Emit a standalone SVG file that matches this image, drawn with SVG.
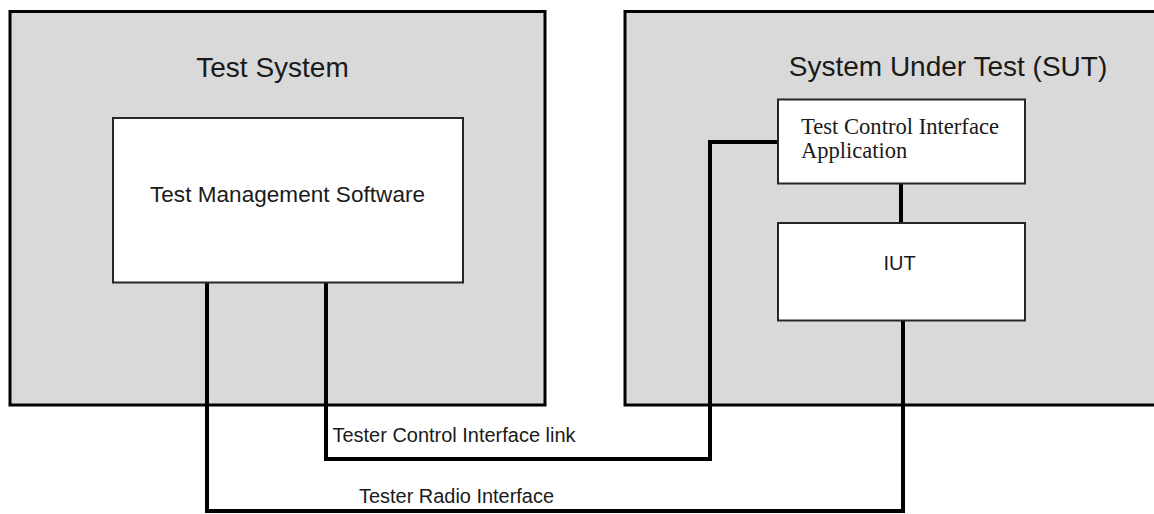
<svg xmlns="http://www.w3.org/2000/svg" width="1154" height="514" viewBox="0 0 1154 514">
<style>
.outer{fill:#d9d9d9;stroke:#000;stroke-width:3}
.inner{fill:#fff;stroke:#262626;stroke-width:2}
.wire{fill:none;stroke:#000;stroke-width:4;stroke-linejoin:miter}
.sans{font-family:"Liberation Sans",Arial,sans-serif;fill:#1a1a1a}
.serif{font-family:"Liberation Serif","Times New Roman",serif;fill:#1a1a1a}
</style>
<rect width="1154" height="514" fill="#fff"/>
<g id="test-system">
<rect class="outer" x="10" y="11.5" width="535" height="393.5"/>
<text class="sans" x="272.5" y="76.5" font-size="28" text-anchor="middle">Test System</text>
</g>
<g id="sut">
<rect class="outer" x="625" y="11.5" width="540" height="393.5"/>
<text class="sans" x="948" y="75.5" font-size="28" text-anchor="middle">System Under Test (SUT)</text>
</g>
<g id="connectors">
<polyline class="wire" points="207,282 207,511 903,511 903,320"/>
<polyline class="wire" points="326,282 326,459 710,459 710,142 778,142"/>
<line class="wire" x1="901" y1="183" x2="901" y2="223"/>
</g>
<g id="test-management-software">
<rect class="inner" x="113" y="118" width="350" height="164.5"/>
<text class="sans" x="150" y="202" font-size="22.5" textLength="275" lengthAdjust="spacing">Test Management Software</text>
</g>
<g id="tcia">
<rect class="inner" x="778" y="99.5" width="247" height="84"/>
<text class="serif" x="801" y="133.5" font-size="22.5" textLength="198" lengthAdjust="spacingAndGlyphs">Test Control Interface</text>
<text class="serif" x="801" y="157.5" font-size="22.5">Application</text>
</g>
<g id="iut">
<rect class="inner" x="778" y="223" width="247" height="97.5"/>
<text class="sans" x="899.5" y="270" font-size="20" text-anchor="middle">IUT</text>
</g>
<g id="labels">
<text class="sans" x="332.5" y="442" font-size="20" textLength="243" lengthAdjust="spacingAndGlyphs">Tester Control Interface link</text>
<text class="sans" x="359" y="503" font-size="20" textLength="195" lengthAdjust="spacingAndGlyphs">Tester Radio Interface</text>
</g>
</svg>
